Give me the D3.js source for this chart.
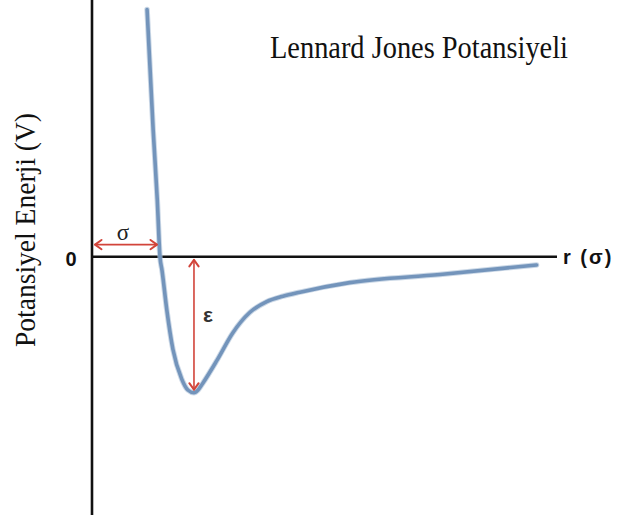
<!DOCTYPE html>
<html>
<head>
<meta charset="utf-8">
<script src="https://cdn.jsdelivr.net/npm/d3@7"></script>
<style>
  html, body { margin: 0; padding: 0; background: #fff; }
  svg { display: block; }
</style>
</head>
<body>
<svg id="chart" width="618" height="521"></svg>
<script>
// Lennard-Jones potential sketch: distance r in units of sigma, energy V in units of epsilon
const rValues = [0.81, 0.90, 0.96, 1.00, 1.03, 1.10, 1.19, 1.32, 1.41, 1.50, 1.56, 1.63, 1.84, 2.07, 2.32, 2.57, 2.81, 3.06, 3.79, 5.12, 6.54];
const vValues = [1.82, 0.93, 0.42, 0.00, -0.10, -0.39, -0.68, -0.90, -0.98, -1.00, -0.98, -0.93, -0.76, -0.56, -0.41, -0.33, -0.29, -0.26, -0.19, -0.13, -0.06];

// Axis extents (data units)
const rDomain = [0, 6.84];
const vDomain = [1.89, -1.9];

// Annotation values
const sigmaSpan = [0, 1];      // zero to the zero-crossing
const sigmaLevel = 0.09;
const epsilonAt = 1.5;         // position of the well bottom
const epsilonSpan = [0, -1];

const titleText = "Lennard Jones Potansiyeli";
const yLabelText = "Potansiyel Enerji (V)";
const xLabelText = "r (σ)";
const zeroLabel = "0";

const svg = d3.select("#chart");

const x = d3.scaleLinear().domain(rDomain).range([92, 557]);
const y = d3.scaleLinear().domain(vDomain).range([0, 515]);

const axisColor = "#111";
const curveColor = "#7394bb";
const arrowColor = "#d2443a";

// Axes
svg.append("line")
  .attr("x1", x(0)).attr("x2", x(0))
  .attr("y1", y(vDomain[0])).attr("y2", y(vDomain[1]))
  .attr("stroke", axisColor).attr("stroke-width", 2.6);

svg.append("line")
  .attr("x1", x(0)).attr("x2", x(rDomain[1]))
  .attr("y1", y(0)).attr("y2", y(0))
  .attr("stroke", axisColor).attr("stroke-width", 2.6);

// Potential curve
const pts = rValues.map((r, i) => [r, vValues[i]]);
const line = d3.line()
  .x(d => x(d[0]))
  .y(d => y(d[1]))
  .curve(d3.curveMonotoneX);

svg.append("path")
  .datum(pts)
  .attr("d", line)
  .attr("fill", "none")
  .attr("stroke", "#a9bed6")
  .attr("stroke-width", 5.5)
  .attr("stroke-linecap", "round")
  .attr("opacity", 0.6);

svg.append("path")
  .datum(pts)
  .attr("d", line)
  .attr("fill", "none")
  .attr("stroke", curveColor)
  .attr("stroke-width", 3.6)
  .attr("stroke-linecap", "round");

// Double-headed arrows
function doubleArrow(x1, y1, x2, y2) {
  const g = svg.append("g")
    .attr("stroke", arrowColor).attr("fill", "none")
    .attr("stroke-width", 1.6).attr("stroke-linecap", "round")
    .attr("stroke-linejoin", "round");
  g.append("line").attr("x1", x1).attr("y1", y1).attr("x2", x2).attr("y2", y2);
  const ang = Math.atan2(y2 - y1, x2 - x1);
  const L = 8, spread = 0.62;
  function head(px, py, a) {
    const p1 = [px - L * Math.cos(a - spread), py - L * Math.sin(a - spread)];
    const p2 = [px - L * Math.cos(a + spread), py - L * Math.sin(a + spread)];
    g.append("path").attr("d", `M${p1[0]},${p1[1]}L${px},${py}L${p2[0]},${p2[1]}`)
      .attr("stroke-width", 2);
  }
  head(x2, y2, ang);
  head(x1, y1, ang + Math.PI);
}

doubleArrow(x(sigmaSpan[0]) + 3, y(sigmaLevel), x(sigmaSpan[1]) - 3, y(sigmaLevel));
doubleArrow(x(epsilonAt), y(epsilonSpan[0]) + 3, x(epsilonAt), y(epsilonSpan[1]) - 3);

// Labels
svg.append("text")
  .attr("x", 123).attr("y", y(sigmaLevel) - 5)
  .attr("text-anchor", "middle")
  .attr("font-family", "Liberation Serif, serif")
  .attr("font-size", 23)
  .attr("fill", "#222")
  .text("σ");

svg.append("text")
  .attr("x", x(epsilonAt) + 14).attr("y", 322)
  .attr("text-anchor", "middle")
  .attr("font-family", "Liberation Sans, Arial, sans-serif")
  .attr("font-size", 21)
  .attr("font-weight", "bold")
  .attr("fill", "#333")
  .text("ε");

svg.append("text")
  .attr("x", 71).attr("y", y(0) + 9)
  .attr("text-anchor", "middle")
  .attr("font-family", "Liberation Sans, Arial, sans-serif")
  .attr("font-size", 20)
  .attr("font-weight", "bold")
  .attr("fill", "#111")
  .text(zeroLabel);

svg.append("text")
  .attr("x", 563).attr("y", y(0) + 7)
  .attr("font-family", "Liberation Sans, Arial, sans-serif")
  .attr("font-size", 20)
  .attr("font-weight", "bold")
  .attr("letter-spacing", 2)
  .attr("fill", "#111")
  .text(xLabelText);

svg.append("text")
  .attr("x", 270).attr("y", 58)
  .attr("font-family", "Liberation Serif, 'Times New Roman', serif")
  .attr("font-size", 31)
  .attr("textLength", 298)
  .attr("lengthAdjust", "spacingAndGlyphs")
  .attr("fill", "#111")
  .text(titleText);

svg.append("text")
  .attr("transform", "translate(35,230) rotate(-90)")
  .attr("text-anchor", "middle")
  .attr("font-family", "Liberation Serif, 'Times New Roman', serif")
  .attr("font-size", 30)
  .attr("textLength", 234)
  .attr("lengthAdjust", "spacingAndGlyphs")
  .attr("fill", "#111")
  .text(yLabelText);
</script>
</body>
</html>
